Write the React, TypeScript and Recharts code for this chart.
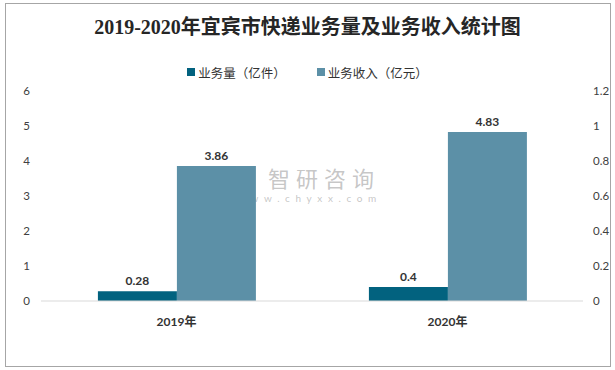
import React from 'react';
import { ComposedChart, Bar, Line, XAxis, YAxis, LabelList, Legend } from 'recharts';

const categories = ['2019年', '2020年'];
const volume = [0.28, 0.4];
const revenue = [3.86, 4.83];
const leftTicks = [0, 1, 2, 3, 4, 5, 6];
const rightTicks = [0, 0.2, 0.4, 0.6, 0.8, 1, 1.2];
const seriesNames = ['业务量（亿件）', '业务收入（亿元）'];
const title = '2019-2020年宜宾市快递业务量及业务收入统计图';

const DARK = '#02627f';
const LIGHT = '#5c90a7';
const FONT = "Lato, 'Noto Sans CJK SC', sans-serif";

const data = categories.map((c, i) => ({ name: c, volume: volume[i], revenue: revenue[i] }));

const LegendContent = () => (
  <div style={{ height: 29, display: 'flex', justifyContent: 'center', fontFamily: FONT, fontSize: 12.5, color: '#333' }}>
    {[DARK, LIGHT].map((col, i) => (
      <div key={i} style={{ display: 'flex', alignItems: 'center', height: 20, marginLeft: i ? 31 : 0 }}>
        <span style={{ display: 'inline-block', width: 8, height: 8, background: col, marginRight: 3 }} />
        <span>{seriesNames[i]}</span>
      </div>
    ))}
  </div>
);

export default function App() {
  return (
    <div style={{ position: 'absolute', left: 0, top: 0, width: 615, height: 370, background: '#fff' }}>
      <div style={{ position: 'absolute', left: 5, top: 3, width: 604, height: 362, border: '1px solid #a6a6a6' }} />
      <div style={{ position: 'absolute', left: 0, top: 14, width: 615, textAlign: 'center', fontFamily: "'Liberation Serif', 'Noto Sans CJK SC', serif", fontWeight: 'bold', fontSize: 20, color: '#262626', lineHeight: '26px' }}>
        {title}
      </div>
      <div style={{ position: 'absolute', left: 268, top: 166, lineHeight: '22px', fontFamily: "'Noto Sans CJK SC', sans-serif", fontSize: 22, letterSpacing: 6, color: 'rgba(150,150,150,0.55)' }}>智研咨询</div>
      <div style={{ position: 'absolute', left: 237, top: 193, lineHeight: '10px', fontFamily: FONT, fontSize: 10, letterSpacing: 5.6, color: 'rgba(150,150,150,0.55)' }}>www.chyxx.com</div>
      <div style={{ position: 'absolute', left: 0, top: 0 }}>
        <ComposedChart width={615} height={370} data={data} margin={{ top: 62, right: 0, bottom: 39, left: 0 }} barGap={0} barCategoryGap="21%">
          <Legend verticalAlign="top" content={<LegendContent />} />
          <XAxis dataKey="name" axisLine={{ stroke: '#d9d9d9' }} tickLine={false} tickSize={0} tickMargin={16} height={30}
            tick={{ fill: '#333', fontSize: 12, fontWeight: 'bold', fontFamily: FONT }} />
          <YAxis yAxisId="left" domain={[0, 6]} ticks={leftTicks} width={41} axisLine={false} tickLine={false} tickSize={0} tickMargin={11}
            tick={{ fill: '#404040', fontSize: 11.5, fontFamily: FONT }} />
          <YAxis yAxisId="right" orientation="right" domain={[0, 1.2]} ticks={rightTicks} width={32} axisLine={false} tickLine={false} tickSize={0} tickMargin={10}
            tick={{ fill: '#404040', fontSize: 11.5, fontFamily: FONT }} />
          <Bar yAxisId="left" dataKey="volume" name={seriesNames[0]} fill={DARK} isAnimationActive={false}>
            <LabelList dataKey="volume" position="top" offset={6} fill="#333" fontSize={12} fontWeight="bold" fontFamily={FONT} />
          </Bar>
          <Bar yAxisId="left" dataKey="revenue" name={seriesNames[1]} fill={LIGHT} isAnimationActive={false}>
            <LabelList dataKey="revenue" position="top" offset={6} fill="#333" fontSize={12} fontWeight="bold" fontFamily={FONT} />
          </Bar>
          <Line yAxisId="right" dataKey="volume" stroke="none" dot={false} activeDot={false} legendType="none" isAnimationActive={false} />
        </ComposedChart>
      </div>
    </div>
  );
}
